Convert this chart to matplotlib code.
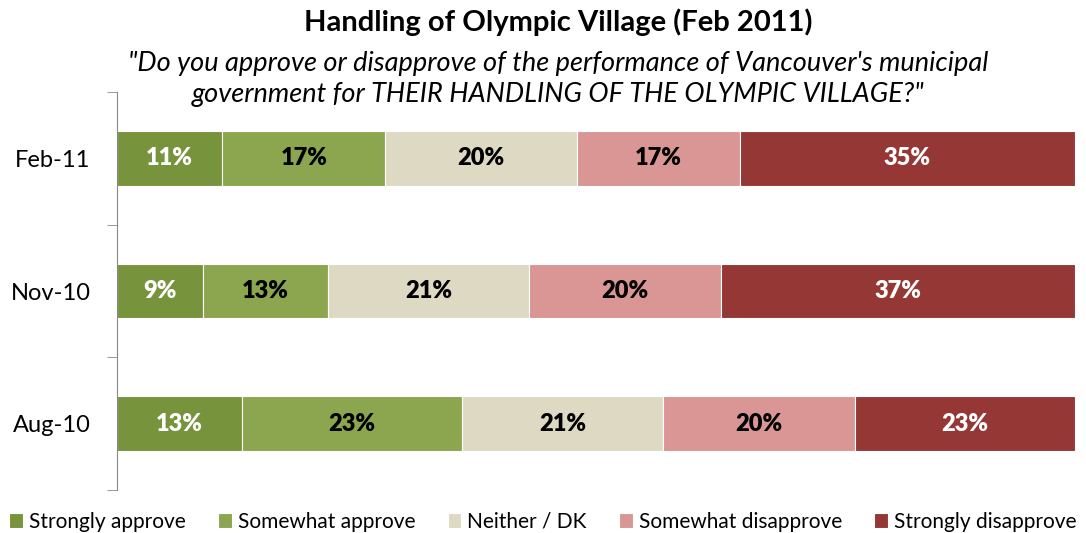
import matplotlib
matplotlib.use("Agg")
import matplotlib.pyplot as plt
import numpy as np

plt.rcParams["font.family"] = ["Lato", "DejaVu Sans"]

periods = ["Feb-11", "Nov-10", "Aug-10"]
categories = ["Strongly approve", "Somewhat approve", "Neither / DK",
              "Somewhat disapprove", "Strongly disapprove"]
strongly_approve = [11, 9, 13]
somewhat_approve = [17, 13, 23]
neither_dk = [20, 21, 21]
somewhat_disapprove = [17, 20, 20]
strongly_disapprove = [35, 37, 23]

COLORS = ["#77933c", "#8ba64f", "#ddd9c3", "#d99694", "#953735"]
TEXT_COLORS = ["white", "black", "black", "black", "white"]

series = [strongly_approve, somewhat_approve, neither_dk,
          somewhat_disapprove, strongly_disapprove]

fig = plt.figure(figsize=(10.86, 5.33), dpi=100)
ax = fig.add_axes([117 / 1086, 1 - 490 / 533, (1075 - 117) / 1086, (490 - 92) / 533])

y = np.arange(len(periods))
left = np.zeros(len(periods))
for vals, name, color, tcol in zip(series, categories, COLORS, TEXT_COLORS):
    vals = np.array(vals, dtype=float)
    ax.barh(y, vals, left=left, height=0.41, color=color, edgecolor="white",
            linewidth=0.8, label=name)
    for yi, l, v in zip(y, left, vals):
        ax.text(l + v / 2, yi, f"{v:.0f}%", ha="center", va="center",
                fontsize=17, fontweight="heavy", color=tcol)
    left += vals

ax.set_xlim(0, left.max())
ax.set_ylim(2.5, -0.5)
ax.set_xticks([])
for s in ["top", "right", "bottom"]:
    ax.spines[s].set_visible(False)
ax.spines["left"].set_color("#888888")
ax.set_yticks(y)
ax.set_yticklabels(periods, fontsize=17)
ax.tick_params(axis="y", length=0, pad=19)
ax.set_yticks([-0.5, 0.5, 1.5, 2.5], minor=True)
ax.tick_params(axis="y", which="minor", length=7, color="#888888", direction="out")

fig.text(0.514, 1 - 22 / 533, "Handling of Olympic Village (Feb 2011)",
         ha="center", va="center", fontsize=21, fontweight="bold")
fig.text(0.514, 1 - 79 / 533,
         "\"Do you approve or disapprove of the performance of Vancouver's municipal\n"
         "government for THEIR HANDLING OF THE OLYMPIC VILLAGE?\"",
         ha="center", va="center", fontsize=19.5, style="italic", linespacing=1.3)

fig.legend(loc="center", bbox_to_anchor=(0.5, 1 - 522 / 533), ncol=5, frameon=False,
           fontsize=15, handlelength=0.65, handleheight=0.75, handletextpad=0.3,
           columnspacing=1.55, borderaxespad=0, borderpad=0)

fig.savefig("out.png", dpi=100)
